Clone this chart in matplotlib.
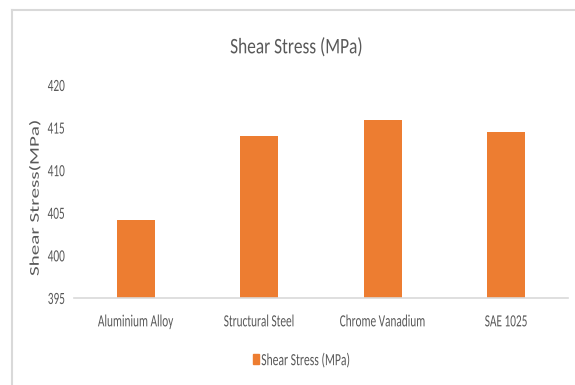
import matplotlib
matplotlib.use('Agg')
import matplotlib.pyplot as plt
from matplotlib.lines import Line2D
from matplotlib.patches import Rectangle
from matplotlib.patheffects import AbstractPathEffect
from matplotlib.transforms import Affine2D

materials = ['Aluminium Alloy', 'Structural Steel', 'Chrome Vanadium', 'SAE 1025']
shear_stress = [404.2, 414.0, 415.9, 414.5]
y_ticks = [395, 400, 405, 410, 415, 420]

font = ['Carlito', 'DejaVu Sans']
grey = '#595959'
bar_color = '#ED7D31'


class Squeeze(AbstractPathEffect):
    """Rescale the glyphs in screen x/y, keeping one edge or the centre fixed."""

    def __init__(self, sx, sy=1.0, anchor='center'):
        super().__init__()
        self.sx = sx
        self.sy = sy
        self.anchor = anchor

    def draw_path(self, renderer, gc, tpath, affine, rgbFace=None):
        ext = tpath.get_extents(affine)
        if self.anchor == 'left':
            x0 = ext.x0
        elif self.anchor == 'right':
            x0 = ext.x1
        else:
            x0 = (ext.x0 + ext.x1) / 2
        y0 = (ext.y0 + ext.y1) / 2
        squeeze = Affine2D().translate(-x0, -y0).scale(self.sx, self.sy).translate(x0, y0)
        renderer.draw_path(gc, tpath, affine + squeeze, rgbFace)


fig = plt.figure(figsize=(5.75, 3.85), dpi=100)
ax = fig.add_axes([74 / 575, 87 / 385, 494 / 575, 213 / 385])

x = range(len(materials))
ax.bar(x, shear_stress, width=0.31, color=bar_color, label='Shear Stress (MPa)')
ax.set_ylim(395, 420)
ax.set_xlim(-0.5, len(materials) - 0.5)

ax.set_yticks(y_ticks)
ax.set_yticklabels([str(t) for t in y_ticks], family=font, fontsize=9, color=grey)
ax.set_xticks(list(x))
ax.set_xticklabels(materials, family=font, fontsize=12.3, color=grey)
ax.tick_params(axis='y', length=0, pad=6.5)
ax.tick_params(axis='x', length=0, pad=12.5)
for lbl in ax.get_yticklabels():
    lbl.set_path_effects([Squeeze(0.9, 1.37, 'right')])
for lbl in ax.get_xticklabels():
    lbl.set_path_effects([Squeeze(0.66)])

for side in ['top', 'right', 'left']:
    ax.spines[side].set_visible(False)
ax.spines['bottom'].set_color('#d9d9d9')
ax.spines['bottom'].set_linewidth(1.2)

ylab = ax.set_ylabel('Shear Stress(MPa)', family=font, fontsize=11, color=grey, va='center')
ax.yaxis.set_label_coords((35 - 74) / 494, (298 - 198) / 213)
ylab.set_path_effects([Squeeze(0.87, 1.38)])

title = fig.text(296.5 / 575, 1 - 53.3 / 385, 'Shear Stress (MPa)', family=font,
                 fontsize=16, color=grey, ha='center', va='baseline')
title.set_path_effects([Squeeze(0.78)])

# legend entry below the axis
leg = fig.legend(handles=[Rectangle((0, 0), 1, 1, color=bar_color)],
                 labels=['Shear Stress (MPa)'], loc='center left',
                 bbox_to_anchor=(252.7 / 575, 1 - 361 / 385),
                 frameon=False, prop={'family': font, 'size': 12.3},
                 borderpad=0, borderaxespad=0,
                 handlelength=0.35, handleheight=0.53, handletextpad=0.14,
                 labelcolor=grey)
for t in leg.get_texts():
    t.set_path_effects([Squeeze(0.68, anchor='left')])

# chart area frame
fig.add_artist(Line2D([12 / 575, 1], [1 - 10 / 385, 1 - 10 / 385], color='#d9d9d9', lw=1.5))
fig.add_artist(Line2D([12 / 575, 12 / 575], [0, 1 - 10 / 385], color='#d9d9d9', lw=1.5))

fig.savefig('out.png', dpi=100)
